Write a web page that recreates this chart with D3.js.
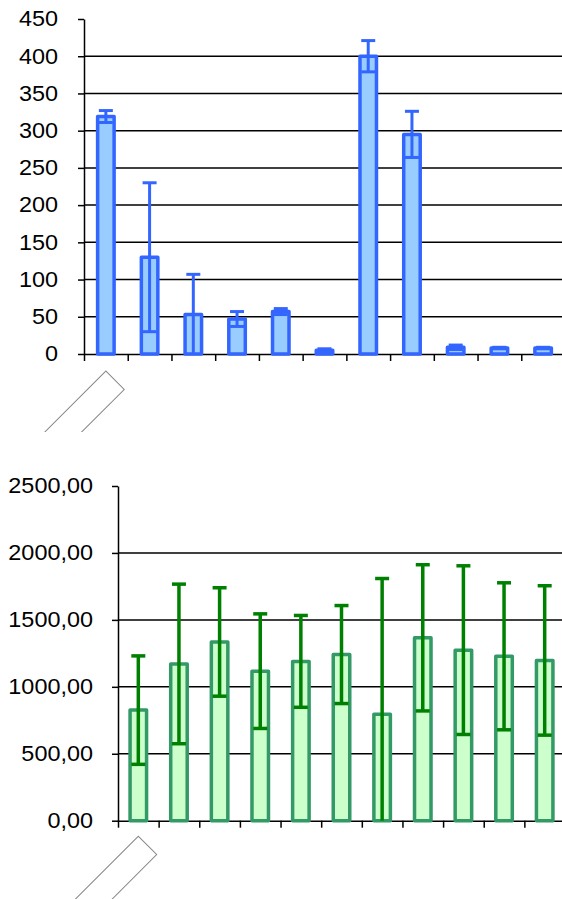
<!DOCTYPE html>
<html>
<head>
<meta charset="utf-8">
<script src="https://cdn.jsdelivr.net/npm/d3@7"></script>
<style>
  body { margin: 0; background: #fff; }
  svg { display: block; font-family: "Liberation Sans", Arial, sans-serif; }
</style>
</head>
<body>
<div id="chart"></div>
<script>
// categories have no visible labels in the picture
const categories = ["c1", "c2", "c3", "c4", "c5", "c6", "c7", "c8", "c9", "c10", "c11"];

const topValues = [319, 130, 53, 47, 57, 5, 400, 295, 9, 8, 8];
const topErrors = [8, 100, 54, 10, 4, 2, 21, 31, 3, 1, 1];
const topTicks = [0, 50, 100, 150, 200, 250, 300, 350, 400, 450];

const bottomValues = [826, 1171, 1335, 1117, 1190, 1241, 795, 1366, 1274, 1228, 1197];
const bottomErrors = [405, 596, 405, 428, 343, 366, 1014, 546, 630, 549, 558];
const bottomTicks = [0, 500, 1000, 1500, 2000, 2500];

const width = 562, height = 899;

const svg = d3.select("#chart")
  .append("svg")
  .attr("width", width)
  .attr("height", height);

const commaFmt = d3.formatLocale({ decimal: ",", thousands: ".", grouping: [3], currency: ["", ""] });

drawPanel({
  values: topValues,
  errors: topErrors,
  ticks: topTicks,
  x0: 84, x1: 565, y0: 354, y1: 19,
  format: d3.format("d"),
  labelPad: 20,
  fill: "#99ccff",
  stroke: "#3366ff",
  errColor: "#3366ff",
  errWidth: 3,
  boxOffset: 17,
  clipBottom: 432,
  id: "top"
});

drawPanel({
  values: bottomValues,
  errors: bottomErrors,
  ticks: bottomTicks,
  x0: 118, x1: 565, y0: 820.7, y1: 486,
  format: commaFmt.format(".2f"),
  labelPad: 19,
  fill: "#ccffcc",
  stroke: "#339966",
  errColor: "#008000",
  errWidth: 3.5,
  boxOffset: 15.5,
  clipBottom: 899,
  id: "bottom"
});

function drawPanel(o) {
  const g = svg.append("g");

  const x = d3.scaleBand()
    .domain(categories)
    .range([o.x0, o.x1])
    .paddingInner(0)
    .paddingOuter(0);

  const y = d3.scaleLinear()
    .domain([0, d3.max(o.ticks)])
    .range([o.y0, o.y1]);

  // gridlines
  g.append("g")
    .selectAll("line")
    .data(o.ticks.filter(t => t > 0 && t < d3.max(o.ticks)))
    .join("line")
    .attr("x1", o.x0)
    .attr("x2", o.x1)
    .attr("y1", d => y(d))
    .attr("y2", d => y(d))
    .attr("stroke", "#000")
    .attr("stroke-width", 1.5);

  // y axis
  const yAxis = d3.axisLeft(y)
    .tickValues(o.ticks)
    .tickFormat(o.format)
    .tickSize(6)
    .tickSizeOuter(0)
    .tickPadding(o.labelPad);

  const ya = g.append("g")
    .attr("transform", `translate(${o.x0},0)`)
    .call(yAxis);
  ya.select(".domain").attr("stroke", "#000").attr("stroke-width", 1.5);
  ya.selectAll(".tick line").attr("stroke", "#000").attr("stroke-width", 1.5);
  // labels in the picture are a bit wider than Arial, stretch them
  ya.selectAll(".tick text")
    .attr("fill", "#000")
    .style("font-size", "21.5px")
    .attr("font-family", "'Liberation Sans', Arial, sans-serif")
    .each(function () {
      const t = d3.select(this);
      const tx = +t.attr("x");
      t.attr("x", 0).attr("transform", `translate(${tx},0) scale(1.09,1)`);
    });

  // x axis: ticks at category boundaries
  const xb = d3.scaleLinear().domain([0, categories.length]).range([o.x0, o.x1]);
  const xAxis = d3.axisBottom(xb)
    .tickValues(d3.range(0, categories.length))
    .tickFormat("")
    .tickSize(7)
    .tickSizeOuter(0);
  const xa = g.append("g")
    .attr("transform", `translate(0,${o.y0})`)
    .call(xAxis);
  xa.select(".domain").attr("stroke", "#000").attr("stroke-width", 1.5);
  xa.selectAll(".tick line").attr("stroke", "#000").attr("stroke-width", 1.5);

  // bars
  const barW = 16.5;
  g.append("g")
    .selectAll("rect")
    .data(o.values)
    .join("rect")
    .attr("x", (d, i) => x(categories[i]) + x.bandwidth() / 2 - barW / 2)
    .attr("y", d => y(d))
    .attr("width", barW)
    .attr("height", d => y(0) - y(d))
    .attr("fill", o.fill)
    .attr("stroke", o.stroke)
    .attr("stroke-width", 3.5)
    .attr("stroke-linejoin", "round");

  // error bars
  const capW = 14;
  const eb = g.append("g")
    .selectAll("g")
    .data(o.values.map((v, i) => ({ v, e: o.errors[i], c: categories[i] })))
    .join("g")
    .attr("stroke", o.errColor)
    .attr("stroke-width", o.errWidth);

  eb.append("line")
    .attr("x1", d => x(d.c) + x.bandwidth() / 2)
    .attr("x2", d => x(d.c) + x.bandwidth() / 2)
    .attr("y1", d => y(d.v + d.e))
    .attr("y2", d => y(Math.max(0, d.v - d.e)));

  eb.append("line")
    .attr("x1", d => x(d.c) + x.bandwidth() / 2 - capW / 2)
    .attr("x2", d => x(d.c) + x.bandwidth() / 2 + capW / 2)
    .attr("y1", d => y(d.v + d.e))
    .attr("y2", d => y(d.v + d.e));

  eb.filter(d => d.v - d.e > 0)
    .append("line")
    .attr("x1", d => x(d.c) + x.bandwidth() / 2 - capW / 2)
    .attr("x2", d => x(d.c) + x.bandwidth() / 2 + capW / 2)
    .attr("y1", d => y(d.v - d.e))
    .attr("y2", d => y(d.v - d.e));

  // empty rotated category label box under the first category
  svg.append("clipPath")
    .attr("id", "clip-" + o.id)
    .append("rect")
    .attr("x", 0)
    .attr("y", 0)
    .attr("width", width)
    .attr("height", o.clipBottom);

  g.append("g")
    .attr("clip-path", `url(#clip-${o.id})`)
    .append("rect")
    .attr("transform", `translate(${x(categories[0]) + x.bandwidth() / 2},${o.y0 + o.boxOffset}) rotate(-45)`)
    .attr("x", -200)
    .attr("y", 0)
    .attr("width", 200)
    .attr("height", 26)
    .attr("fill", "none")
    .attr("stroke", "#888")
    .attr("stroke-width", 1);
}
</script>
</body>
</html>
